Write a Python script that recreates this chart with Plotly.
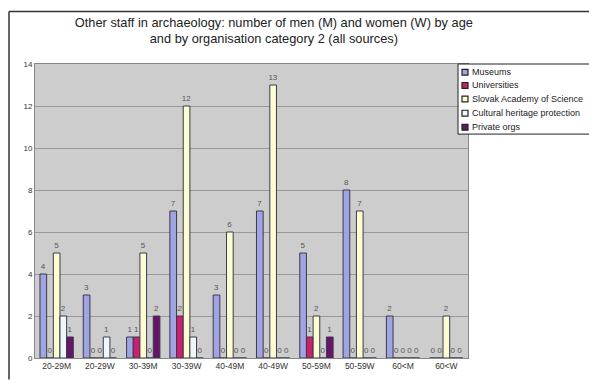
import plotly.graph_objects as go

# Age / sex groups on the x axis
categories = ["20-29M", "20-29W", "30-39M", "30-39W", "40-49M",
              "40-49W", "50-59M", "50-59W", "60<M", "60<W"]

# Staff counts per organisation category
museums = [4, 3, 1, 7, 3, 7, 5, 8, 2, 0]
universities = [0, 0, 1, 2, 0, 0, 1, 0, 0, 0]
slovak_academy = [5, 0, 5, 12, 6, 13, 2, 7, 0, 2]
cultural_heritage = [2, 1, 0, 1, 0, 0, 0, 0, 0, 0]
private_orgs = [1, 0, 2, 0, 0, 0, 1, 0, 0, 0]

series = [
    ("Museums", museums, "#a0a4e2"),
    ("Universities", universities, "#cc1f6e"),
    ("Slovak Academy of Science", slovak_academy, "#fdfdd2"),
    ("Cultural heritage protection", cultural_heritage, "#eef8fa"),
    ("Private orgs", private_orgs, "#68146c"),
]

y_ticks = list(range(0, 15, 2))

W, H = 589, 383
ML, MR, MT, MB = 35, 121, 64, 17
PW, PH = W - ML - MR, H - MT - MB


def px_x(p):
    """Pixel column -> paper x."""
    return (p - ML) / PW


def px_y(p):
    """Pixel row -> paper y."""
    return (H - MB - p) / PH


FONT = "Arial, Liberation Sans, sans-serif"

fig = go.Figure()
for name, values, color in series:
    fig.add_trace(go.Bar(
        name=name,
        x=categories,
        y=values,
        marker=dict(color=color, line=dict(color="#3a3a4a", width=1)),
        text=[str(v) for v in values],
        textposition="outside",
        constraintext="none",
        textfont=dict(size=8, color="#555555", family=FONT),
        cliponaxis=False,
    ))

fig.update_layout(
    width=W,
    height=H,
    margin=dict(l=ML, r=MR, t=MT, b=MB),
    paper_bgcolor="white",
    plot_bgcolor="#cdcdcd",
    barmode="group",
    bargap=0.23,
    bargroupgap=0,
    showlegend=False,
    font=dict(family=FONT, color="#222222"),
    title=dict(
        text="Other staff in archaeology: number of men (M) and women (W) by age<br>and by organisation category 2 (all sources)",
        x=0.465,
        xref="container",
        xanchor="center",
        y=0.93,
        yref="container",
        yanchor="middle",
        font=dict(size=12.8, color="#222222"),
    ),
)

fig.update_xaxes(
    tickfont=dict(size=8.5, color="#333333"),
    showline=True,
    linecolor="#888888",
    linewidth=1,
    mirror=True,
    ticks="",
)
fig.update_yaxes(
    range=[0, 14],
    tickvals=y_ticks,
    tickfont=dict(size=8, color="#333333"),
    showgrid=True,
    gridcolor="#999999",
    gridwidth=1,
    zeroline=False,
    showline=True,
    linecolor="#888888",
    mirror=True,
    ticks="",
)

# Frame around the whole chart (left and top edges are visible)
frame = dict(color="#333333", width=1.5)
fig.add_shape(type="line", xref="paper", yref="paper",
              x0=px_x(9), x1=px_x(W + 5), y0=px_y(10), y1=px_y(10), line=frame)
fig.add_shape(type="line", xref="paper", yref="paper",
              x0=px_x(9), x1=px_x(9), y0=px_y(10), y1=px_y(H + 5), line=frame)

# Legend box with a swatch and label per organisation category
fig.add_shape(type="rect", xref="paper", yref="paper",
              x0=px_x(458), x1=px_x(W + 20), y0=px_y(136), y1=px_y(64),
              line=dict(color="#222222", width=1), fillcolor="white")
row_y = [72.5, 86, 100, 114.5, 129]
for (name, _, color), yc in zip(series, row_y):
    fig.add_shape(type="rect", xref="paper", yref="paper",
                  x0=px_x(462), x1=px_x(468), y0=px_y(yc + 3), y1=px_y(yc - 3),
                  line=dict(color="#222222", width=1.2), fillcolor=color)
    fig.add_annotation(xref="paper", yref="paper", x=px_x(470), y=px_y(yc),
                       xanchor="left", yanchor="middle", showarrow=False,
                       text=name, font=dict(size=9, color="#222222", family=FONT))

fig.write_html("out.html")
